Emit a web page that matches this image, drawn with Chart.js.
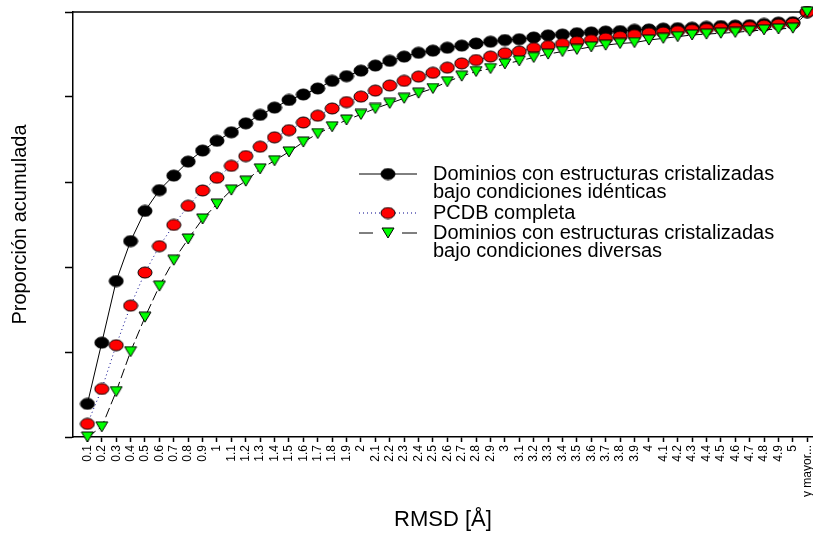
<!DOCTYPE html>
<html>
<head>
<meta charset="utf-8">
<script src="https://cdn.jsdelivr.net/npm/chart.js@4.4.0/dist/chart.umd.min.js"></script>
<style>
html, body { margin: 0; padding: 0; background: #fff; overflow: hidden; }
canvas { display: block; }
</style>
</head>
<body>
<canvas id="rmsdChart" width="813" height="534"></canvas>
<script>
// RMSD classes (x axis)
const rmsdLabels = ['0.1', '0.2', '0.3', '0.4', '0.5', '0.6', '0.7', '0.8', '0.9', '1',
    '1.1', '1.2', '1.3', '1.4', '1.5', '1.6', '1.7', '1.8', '1.9', '2',
    '2.1', '2.2', '2.3', '2.4', '2.5', '2.6', '2.7', '2.8', '2.9', '3',
    '3.1', '3.2', '3.3', '3.4', '3.5', '3.6', '3.7', '3.8', '3.9', '4',
    '4.1', '4.2', '4.3', '4.4', '4.5', '4.6', '4.7', '4.8', '4.9', '5', 'y mayor...'];

// Cumulative proportions
const identicas = [0.078, 0.222, 0.367, 0.461, 0.532, 0.581, 0.615, 0.648, 0.674, 0.697,
    0.717, 0.738, 0.758, 0.775, 0.793, 0.806, 0.820, 0.838, 0.849, 0.862,
    0.874, 0.885, 0.895, 0.904, 0.909, 0.916, 0.921, 0.926, 0.930, 0.934,
    0.936, 0.940, 0.945, 0.947, 0.950, 0.952, 0.954, 0.955, 0.958, 0.959,
    0.961, 0.962, 0.963, 0.965, 0.967, 0.968, 0.969, 0.972, 0.975, 0.976, 1.0];

const pcdb = [0.031, 0.113, 0.216, 0.309, 0.387, 0.449, 0.499, 0.544, 0.580, 0.610,
    0.638, 0.661, 0.683, 0.705, 0.722, 0.740, 0.756, 0.773, 0.788, 0.801,
    0.815, 0.827, 0.838, 0.848, 0.857, 0.869, 0.879, 0.887, 0.895, 0.903,
    0.907, 0.915, 0.920, 0.925, 0.930, 0.934, 0.938, 0.942, 0.946, 0.950,
    0.952, 0.955, 0.958, 0.960, 0.962, 0.963, 0.965, 0.968, 0.971, 0.973, 1.0];

const diversas = [0.000, 0.024, 0.107, 0.201, 0.282, 0.355, 0.416, 0.466, 0.513, 0.548,
    0.581, 0.602, 0.631, 0.650, 0.671, 0.694, 0.714, 0.730, 0.746, 0.759,
    0.773, 0.785, 0.797, 0.809, 0.820, 0.836, 0.849, 0.860, 0.867, 0.878,
    0.885, 0.893, 0.901, 0.907, 0.912, 0.918, 0.922, 0.926, 0.928, 0.934,
    0.938, 0.942, 0.946, 0.948, 0.950, 0.952, 0.955, 0.958, 0.960, 0.962, 1.0];

const yTicks = [0, 0.2, 0.4, 0.6, 0.8, 1];

const seriesNames = [
    ['Dominios con estructuras cristalizadas', 'bajo condiciones idénticas'],
    ['PCDB completa'],
    ['Dominios con estructuras cristalizadas', 'bajo condiciones diversas']
];

const FONT = "'Liberation Sans', Arial, sans-serif";

// marker images (slightly flattened like the original)
function ellipseMarker(w, h, fill) {
    const c = document.createElement('canvas');
    c.width = w + 2;
    c.height = h + 2;
    const g = c.getContext('2d');
    g.beginPath();
    g.ellipse(c.width / 2, c.height / 2, w / 2, h / 2, 0, 0, Math.PI * 2);
    g.fillStyle = fill;
    g.fill();
    g.lineWidth = 1;
    g.strokeStyle = '#000';
    g.stroke();
    return c;
}

function triangleMarker(w, h, fill) {
    const c = document.createElement('canvas');
    c.width = w + 2;
    c.height = h + 2;
    const g = c.getContext('2d');
    g.beginPath();
    g.moveTo(1, 1);
    g.lineTo(w + 1, 1);
    g.lineTo(c.width / 2, h + 1);
    g.closePath();
    g.fillStyle = fill;
    g.fill();
    g.lineWidth = 1;
    g.strokeStyle = '#000';
    g.stroke();
    return c;
}

const blackDot = ellipseMarker(14, 11, '#000000');
const redDot = ellipseMarker(14, 11, '#ff0000');
const greenTri = triangleMarker(12, 10, '#00ff00');

function toPoints(values) {
    return values.map((v, i) => ({ x: i + 1, y: v }));
}

// top frame line
const frameTop = {
    id: 'frameTop',
    beforeDatasetsDraw(chart) {
        const { ctx, chartArea } = chart;
        ctx.save();
        ctx.strokeStyle = '#000';
        ctx.lineWidth = 1.5;
        ctx.beginPath();
        ctx.moveTo(chartArea.left, chartArea.top);
        ctx.lineTo(chart.width, chartArea.top);
        ctx.stroke();
        ctx.restore();
    }
};

// legend placed inside the plot, with two-line entries
const insideLegend = {
    id: 'insideLegend',
    afterDraw(chart) {
        const ctx = chart.ctx;
        const x0 = 359, x1 = 417, xm = 388, tx = 433;
        const rows = [174, 213, 233];
        const lineGap = 18.5;
        ctx.save();
        ctx.lineWidth = 1;

        // black solid
        ctx.strokeStyle = '#000';
        ctx.setLineDash([]);
        ctx.beginPath();
        ctx.moveTo(x0, rows[0]);
        ctx.lineTo(x1, rows[0]);
        ctx.stroke();
        ctx.drawImage(blackDot, xm - blackDot.width / 2, rows[0] - blackDot.height / 2);

        // blue dotted
        ctx.strokeStyle = '#00008b';
        ctx.setLineDash([1, 3]);
        ctx.beginPath();
        ctx.moveTo(x0, rows[1]);
        ctx.lineTo(x1, rows[1]);
        ctx.stroke();
        ctx.drawImage(redDot, xm - redDot.width / 2, rows[1] - redDot.height / 2);

        // black dashed
        ctx.strokeStyle = '#000';
        ctx.setLineDash([]);
        ctx.beginPath();
        ctx.moveTo(x0, rows[2]);
        ctx.lineTo(x0 + 14, rows[2]);
        ctx.moveTo(x1 - 15, rows[2]);
        ctx.lineTo(x1, rows[2]);
        ctx.stroke();
        ctx.drawImage(greenTri, xm - greenTri.width / 2, rows[2] - greenTri.height / 2);

        ctx.fillStyle = '#000';
        ctx.font = '20px ' + FONT;
        ctx.textBaseline = 'middle';
        ctx.textAlign = 'left';
        seriesNames.forEach((lines, i) => {
            lines.forEach((t, j) => ctx.fillText(t, tx, rows[i] + j * lineGap));
        });
        ctx.restore();
    }
};

const ctx = document.getElementById('rmsdChart').getContext('2d');
new Chart(ctx, {
    type: 'line',
    data: {
        datasets: [{
            label: seriesNames[0].join(' '),
            data: toPoints(identicas),
            borderColor: '#000',
            borderWidth: 1,
            pointStyle: blackDot,
            pointRadius: 6,
            clip: false,
            order: 3
        }, {
            label: seriesNames[1].join(' '),
            data: toPoints(pcdb),
            borderColor: '#00008b',
            borderWidth: 1,
            borderDash: [1, 3],
            pointStyle: redDot,
            pointRadius: 6,
            clip: false,
            order: 2
        }, {
            label: seriesNames[2].join(' '),
            data: toPoints(diversas),
            borderColor: '#000',
            borderWidth: 1,
            borderDash: [10, 4],
            pointStyle: greenTri,
            pointRadius: 6,
            clip: false,
            order: 1
        }]
    },
    options: {
        responsive: false,
        animation: false,
        devicePixelRatio: 1,
        layout: { autoPadding: false, padding: { top: 12, right: 0, bottom: 0, left: 0 } },
        plugins: {
            legend: { display: false },
            tooltip: { enabled: false }
        },
        scales: {
            x: {
                type: 'linear',
                min: 0,
                max: 51.4,
                afterBuildTicks: s => { s.ticks = rmsdLabels.map((_, i) => ({ value: i + 1 })); },
                afterFit: s => { s.height = 97; s.paddingLeft = 0; s.paddingRight = 0; },
                ticks: {
                    autoSkip: false,
                    minRotation: 90,
                    maxRotation: 90,
                    padding: 3,
                    color: '#000',
                    font: { family: FONT, size: 12 },
                    callback: v => rmsdLabels[v - 1]
                },
                grid: { drawOnChartArea: false, tickLength: 5, tickWidth: 1.5, color: '#000' },
                border: { color: '#000', width: 1.5 },
                title: {
                    display: true,
                    text: 'RMSD [Å]',
                    color: '#000',
                    font: { family: FONT, size: 22 },
                    padding: { top: 0, bottom: 1 }
                }
            },
            y: {
                min: 0,
                max: 1,
                afterBuildTicks: s => { s.ticks = yTicks.map(v => ({ value: v })); },
                afterFit: s => { s.width = 73; },
                ticks: { display: false },
                grid: { drawOnChartArea: false, tickLength: 8, tickWidth: 1.5, color: '#000' },
                border: { color: '#000', width: 1.5 },
                title: {
                    display: true,
                    text: 'Proporción acumulada',
                    color: '#000',
                    font: { family: FONT, size: 20 },
                    padding: { top: 8, bottom: 0 }
                }
            }
        }
    },
    plugins: [frameTop, insideLegend]
});
</script>
</body>
</html>
